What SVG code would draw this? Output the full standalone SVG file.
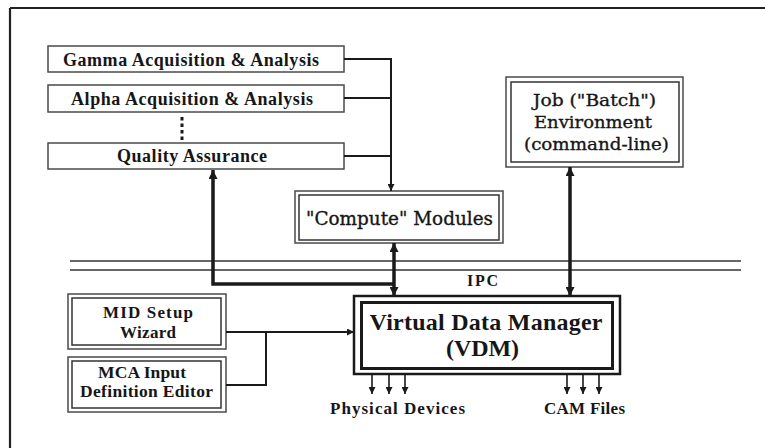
<svg xmlns="http://www.w3.org/2000/svg" width="765" height="448" viewBox="0 0 765 448">
<style>
  .bg{fill:#ffffff}
  .box{fill:#fff;stroke:#4a4a4a;stroke-width:1.5}
  .in{fill:none;stroke:#333;stroke-width:1.5}
  .lbl{font-family:"Liberation Serif","Times New Roman",serif;font-weight:bold;fill:#161616;text-anchor:middle}
  .mono{font-family:"DejaVu Serif","Liberation Serif",serif;fill:#161616;stroke:#161616;stroke-width:0.35;text-anchor:middle}
  .thin{fill:none;stroke:#1a1a1a;stroke-width:2}
  .thick{fill:none;stroke:#1a1a1a;stroke-width:3.5}
  .small{fill:none;stroke:#1a1a1a;stroke-width:1.6}
</style>
<defs>
  <marker id="ah" viewBox="0 0 10 10" refX="10" refY="5" markerWidth="9" markerHeight="9" markerUnits="userSpaceOnUse" orient="auto-start-reverse">
    <path d="M0,0 L10,5 L0,10 z" fill="#1a1a1a"/>
  </marker>
  <marker id="as" viewBox="0 0 10 10" refX="10" refY="5" markerWidth="7" markerHeight="7" markerUnits="userSpaceOnUse" orient="auto">
    <path d="M0,0 L10,5 L0,10 z" fill="#1a1a1a"/>
  </marker>
</defs>
<rect class="bg" x="0" y="0" width="765" height="448"/>
<g id="frame">
  <line x1="10" y1="8" x2="765" y2="8" stroke="#222" stroke-width="2.2"/>
  <line x1="10" y1="8" x2="10" y2="448" stroke="#222" stroke-width="2.2"/>
</g>
<g id="ipc">
  <line x1="70" y1="261" x2="741" y2="261" stroke="#333" stroke-width="1.3"/>
  <line x1="70" y1="270" x2="741" y2="270" stroke="#333" stroke-width="1.3"/>
  <text class="lbl" x="482.5" y="286" font-size="16" textLength="31" lengthAdjust="spacing">IPC</text>
</g>
<g id="gamma">
  <rect class="box" x="48" y="46" width="296" height="26"/>
  <text class="lbl" x="191" y="65.5" font-size="18" textLength="256" lengthAdjust="spacing">Gamma Acquisition &amp; Analysis</text>
</g>
<g id="alpha">
  <rect class="box" x="48" y="85" width="296" height="27"/>
  <text class="lbl" x="192" y="104.5" font-size="18" textLength="242" lengthAdjust="spacing">Alpha Acquisition &amp; Analysis</text>
</g>
<g id="dots">
  <line x1="182" y1="117" x2="182" y2="140" stroke="#1a1a1a" stroke-width="3" stroke-dasharray="3.5 3"/>
</g>
<g id="qa">
  <rect class="box" x="48" y="143" width="296" height="26"/>
  <text class="lbl" x="192" y="162" font-size="18" textLength="150" lengthAdjust="spacing">Quality Assurance</text>
</g>
<g id="compute">
  <rect class="box" x="295" y="191" width="208" height="52"/>
  <rect class="in" x="299" y="195" width="200" height="45"/>
  <text class="mono" x="399.5" y="224.5" font-size="18.5" textLength="187" lengthAdjust="spacingAndGlyphs">"Compute" Modules</text>
</g>
<g id="job">
  <rect class="box" x="506" y="77" width="177" height="90"/>
  <rect class="in" x="511" y="82" width="168" height="80"/>
  <text class="mono" x="594.5" y="106" font-size="17" textLength="123" lengthAdjust="spacingAndGlyphs">Job ("Batch")</text>
  <text class="mono" x="593" y="128" font-size="17" textLength="118" lengthAdjust="spacingAndGlyphs">Environment</text>
  <text class="mono" x="596.5" y="150" font-size="17" textLength="145" lengthAdjust="spacingAndGlyphs">(command-line)</text>
</g>
<g id="vdm">
  <rect x="354" y="296" width="266" height="78" fill="#fff" stroke="#1a1a1a" stroke-width="2.5"/>
  <rect x="361.5" y="302.5" width="251" height="66" fill="none" stroke="#1a1a1a" stroke-width="3"/>
  <text class="lbl" x="486" y="330" font-size="24" textLength="233" lengthAdjust="spacing">Virtual Data Manager</text>
  <text class="lbl" x="482.5" y="356" font-size="24" textLength="73" lengthAdjust="spacing">(VDM)</text>
</g>
<g id="mid">
  <rect class="box" x="68" y="294" width="158" height="55"/>
  <rect class="in" x="72" y="298" width="149" height="47"/>
  <text class="lbl" x="148" y="318" font-size="17" textLength="90" lengthAdjust="spacing">MID Setup</text>
  <text class="lbl" x="148" y="337.5" font-size="17" textLength="56" lengthAdjust="spacing">Wizard</text>
</g>
<g id="mca">
  <rect class="box" x="68" y="357" width="158" height="55"/>
  <rect class="in" x="72" y="361" width="149" height="47"/>
  <text class="lbl" x="142" y="378" font-size="17.5" textLength="88" lengthAdjust="spacing">MCA Input</text>
  <text class="lbl" x="146.5" y="397" font-size="17.5" textLength="133" lengthAdjust="spacing">Definition Editor</text>
</g>
<g id="labels">
  <text class="lbl" x="397.5" y="414" font-size="17" textLength="135" lengthAdjust="spacing">Physical Devices</text>
  <text class="lbl" x="584.5" y="414" font-size="17" textLength="81" lengthAdjust="spacing">CAM Files</text>
</g>
<g id="connectors">
  <polyline class="thin" points="344,59 391,59 391,191" marker-end="url(#as)"/>
  <line class="thin" x1="344" y1="98" x2="391" y2="98"/>
  <line class="thin" x1="344" y1="156" x2="391" y2="156"/>
  <polyline class="thick" points="394,284 213,284 213,170" marker-end="url(#ah)"/>
  <line class="thick" x1="394" y1="243" x2="394" y2="296" marker-start="url(#ah)" marker-end="url(#ah)"/>
  <line class="thick" x1="570" y1="167" x2="570" y2="296" marker-start="url(#ah)" marker-end="url(#ah)"/>
  <line class="thin" x1="226" y1="332" x2="354" y2="332" marker-end="url(#as)"/>
  <polyline class="thin" points="226,385 266,385 266,332"/>
  <line class="small" x1="372" y1="374" x2="372" y2="394" marker-end="url(#as)"/>
  <line class="small" x1="389" y1="374" x2="389" y2="394" marker-end="url(#as)"/>
  <line class="small" x1="405" y1="374" x2="405" y2="394" marker-end="url(#as)"/>
  <line class="small" x1="567" y1="374" x2="567" y2="394" marker-end="url(#as)"/>
  <line class="small" x1="583" y1="374" x2="583" y2="394" marker-end="url(#as)"/>
  <line class="small" x1="599" y1="374" x2="599" y2="394" marker-end="url(#as)"/>
</g>
</svg>
